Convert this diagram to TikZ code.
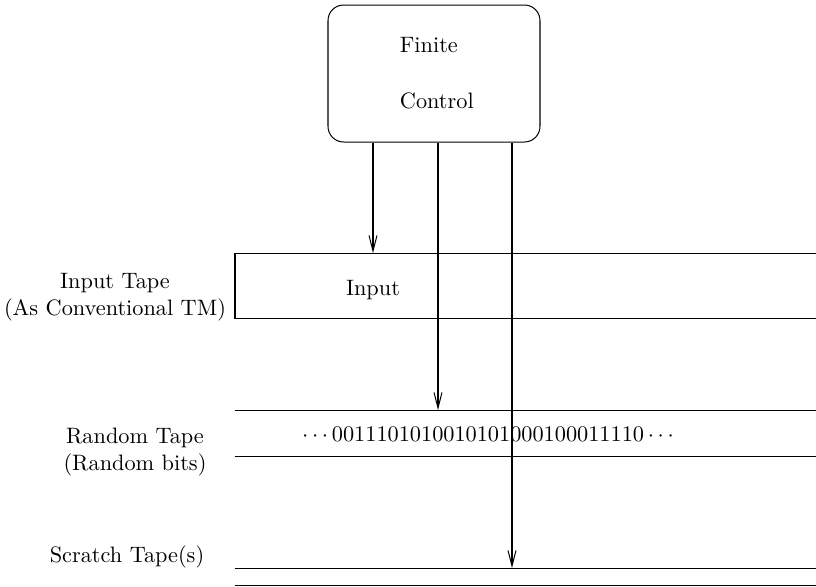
\documentclass[tikz,border=0pt]{standalone}
\usepackage{tikz}
\usetikzlibrary{arrows.meta,calc}

\begin{document}
\begin{tikzpicture}[x=0.01576cm,y=-0.01576cm,line width=0.45pt,
  barb/.style={-{Straight Barb[length=7pt,width=3.6pt]}}]

\useasboundingbox (0,0) rectangle (816,587);

% finite control
\node[draw,rounded corners=7pt,minimum width=212*0.01576cm,minimum height=137*0.01576cm] (fc) at (434,73.5) {};
\node[anchor=west] (fin) at (392,45) {Finite};
\node[anchor=west] (ctl) at (392,101) {Control};

% tapes
\coordinate (it1) at (235,253);
\coordinate (it2) at (816,253);
\coordinate (it3) at (235,318);
\coordinate (it4) at (816,318);
\coordinate (rt1) at (235,410);
\coordinate (rt2) at (816,410);
\coordinate (rt3) at (235,456);
\coordinate (rt4) at (816,456);
\coordinate (st1) at (235,568);
\coordinate (st2) at (816,568);
\coordinate (st3) at (235,585);
\coordinate (st4) at (816,585);

\draw (it2) -- (it1) -- (it3) -- (it4);
\draw (rt1) -- (rt2) (rt3) -- (rt4);
\draw (st1) -- (st2) (st3) -- (st4);

\node (inp) at (373,290) {Input};
\node (bits) at (488,434) {$\cdots 0011101010010101000100011110\cdots$};

\node[align=center] (itl) at (115,297) {Input Tape\\(As Conventional TM)};
\node[align=center] (rtl) at (135,452) {Random Tape\\(Random bits)};
\node (stl) at (127,557) {Scratch Tape(s)};

% heads
\coordinate (h1) at (373,253);
\coordinate (h2) at (438,410);
\coordinate (h3) at (512,568);

\draw[barb] (fc.south -| h1) -- (h1);
\draw[barb] (fc.south -| h2) -- (h2);
\draw[barb] (fc.south -| h3) -- (h3);

\end{tikzpicture}
\end{document}
